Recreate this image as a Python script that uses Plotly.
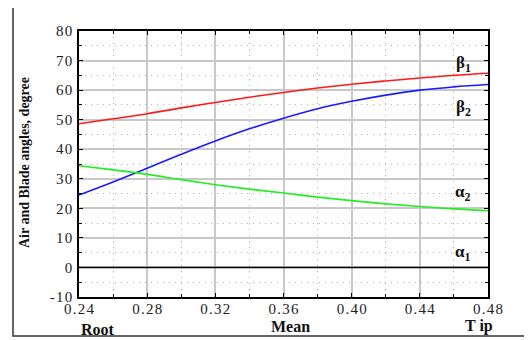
import plotly.graph_objects as go

# data
r = [0.24, 0.26, 0.28, 0.30, 0.32, 0.34, 0.36, 0.38, 0.40, 0.42, 0.44, 0.46, 0.48]
beta1 = [48.6, 50.3, 52.0, 54.0, 55.8, 57.6, 59.2, 60.7, 62.0, 63.1, 64.1, 65.0, 65.7]
beta2 = [24.5, 28.9, 33.6, 38.3, 42.8, 46.9, 50.5, 53.7, 56.2, 58.3, 60.0, 61.1, 61.9]
alpha2 = [34.4, 33.0, 31.5, 29.7, 28.0, 26.5, 25.2, 23.8, 22.6, 21.5, 20.6, 19.8, 19.2]
alpha1 = [0.0] * len(r)

x_ticks = [0.24, 0.28, 0.32, 0.36, 0.40, 0.44, 0.48]
x_ticktext = ["0.24", "0.28", "0.32", "0.36", "0.40", "0.44", "0.48"]
y_ticks = [-10, 0, 10, 20, 30, 40, 50, 60, 70, 80]
y_ticktext = ["-10", "0", "10", "20", "30", "40", "50", "60", "70", "80"]
station_labels = ["Root", "Mean", "T ip"]
station_pos = [0.251, 0.364, 0.475]

OFF = 8  # default page body margin
W, H = 532 - OFF, 340 - OFF
ML, MT = 79 - OFF, 31 - OFF
MR = W - (488 - OFF)
MB = H - (297 - OFF)
PW, PH = W - ML - MR, H - MT - MB

def sp(s):
    return "\u200a".join(list(s))

fig = go.Figure()
fig.add_trace(go.Scatter(x=r, y=beta1, mode="lines", line=dict(color="#ff1a1a", width=1.6, shape="spline")))
fig.add_trace(go.Scatter(x=r, y=beta2, mode="lines", line=dict(color="#1a1aff", width=1.6, shape="spline")))
fig.add_trace(go.Scatter(x=r, y=alpha2, mode="lines", line=dict(color="#22ee22", width=1.6, shape="spline")))
fig.add_trace(go.Scatter(x=r, y=alpha1, mode="lines", line=dict(color="black", width=1.6)))

serif = "Liberation Serif, Times New Roman, serif"
fig.update_layout(
    width=W, height=H,
    margin=dict(l=ML, r=MR, t=MT, b=MB),
    paper_bgcolor="white", plot_bgcolor="white",
    showlegend=False,
    font=dict(family=serif, size=14, color="#222"),
)
fig.update_xaxes(
    range=[0.24, 0.48], tickvals=x_ticks, ticktext=[sp(t) for t in x_ticktext],
    showgrid=True, gridcolor="#c8c8c8", gridwidth=1.5,
    showline=True, linecolor="black", linewidth=1.5, mirror="ticks",
    ticks="inside", ticklen=4, tickcolor="black", zeroline=False,
    minor=dict(dtick=0.02, tick0=0.24, showgrid=True, gridcolor="#b0b0b0", griddash="1px,5px",
               gridwidth=1, ticks="inside", ticklen=3, tickcolor="black"),
    tickfont=dict(family=serif, size=15, color="#222"), ticklabelstandoff=-3,
)
fig.update_yaxes(
    range=[-10, 80], tickvals=y_ticks, ticktext=[sp(t) for t in y_ticktext],
    showgrid=True, gridcolor="#c8c8c8", gridwidth=1.5,
    showline=True, linecolor="black", linewidth=1.5, mirror="ticks",
    ticks="inside", ticklen=4, tickcolor="black", zeroline=False,
    minor=dict(dtick=5, tick0=-10, showgrid=True, gridcolor="#b0b0b0", griddash="1px,5px",
               gridwidth=1, ticks="inside", ticklen=3, tickcolor="black"),
    tickfont=dict(family=serif, size=15, color="#222"), ticklabelstandoff=2,
)

def px_x(p):
    return (p - OFF - ML) / PW

def px_y(p):
    return (H - MB - (p - OFF)) / PH

fig.add_shape(type="rect", xref="paper", yref="paper",
              x0=px_x(13), x1=px_x(545), y0=px_y(336), y1=px_y(4),
              line=dict(color="#333", width=1.5), layer="above")

fig.add_annotation(xref="paper", yref="paper", x=px_x(24), y=px_y(163),
                   xanchor="center", yanchor="middle",
                   text="<b>Air and Blade angles, degree</b>", textangle=-90,
                   showarrow=False, font=dict(family=serif, size=14, color="#111"))

for lab, pos, ypx in zip(station_labels, station_pos, [329, 326, 326]):
    fig.add_annotation(xref="x", yref="paper", x=pos, y=px_y(ypx), text="<b>" + lab + "</b>",
                       xanchor="center", yanchor="middle",
                       showarrow=False, font=dict(family=serif, size=16, color="#111"))

greek = [("β", "1", 64), ("β", "2", 108), ("α", "2", 193), ("α", "1", 253)]
for g, s, ypx in greek:
    fig.add_annotation(xref="paper", yref="paper", x=px_x(463), y=px_y(ypx),
                       xanchor="center", yanchor="middle",
                       text="<b>" + g + "<sub>" + s + "</sub></b>",
                       showarrow=False, font=dict(family=serif, size=17, color="#111"))

fig.write_html("out.html")
